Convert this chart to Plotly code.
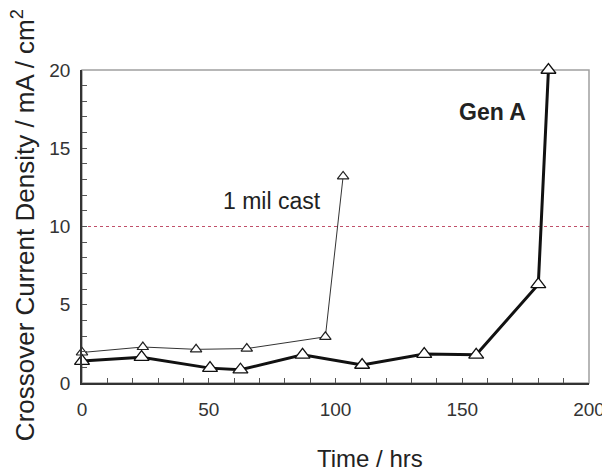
import plotly.graph_objects as go

cast_time = [0, 24, 45, 65, 96, 103]
cast_cd = [1.95, 2.3, 2.15, 2.2, 2.95, 13.2]

genA_time = [0, 23.5, 50.5, 62.5, 87, 110.5, 135, 155.5, 180, 184]
genA_cd = [1.4, 1.65, 0.95, 0.85, 1.8, 1.15, 1.85, 1.8, 6.3, 20]

threshold = 10
x_range = [0, 200]
y_range = [0, 20]

font = "Liberation Sans, Arial, sans-serif"

fig = go.Figure()
fig.add_trace(go.Scatter(
    x=x_range, y=[threshold, threshold], mode="lines",
    line=dict(color="#c0506a", width=1, dash="dot"), hoverinfo="skip"))
fig.add_trace(go.Scatter(
    x=cast_time, y=cast_cd, mode="lines+markers", name="1 mil cast",
    line=dict(color="#333333", width=1), cliponaxis=False,
    marker=dict(symbol="triangle-up", size=10, color="white",
                line=dict(color="#222222", width=1.2))))
fig.add_trace(go.Scatter(
    x=genA_time, y=genA_cd, mode="lines+markers", name="Gen A",
    line=dict(color="#111111", width=3), cliponaxis=False,
    marker=dict(symbol="triangle-up", size=13, color="white",
                line=dict(color="#111111", width=1.3))))

fig.add_annotation(x=75, y=11.6, text="1 mil cast", showarrow=False,
                   font=dict(family=font, size=23, color="#222222"))
fig.add_annotation(x=162, y=17.3, text="<b>Gen A</b>", showarrow=False,
                   font=dict(family=font, size=23, color="#222222"))

# axis titles
fig.add_annotation(xref="paper", yref="paper", x=0.568, y=-0.24,
                   text="Time / hrs", showarrow=False, yanchor="middle",
                   font=dict(family=font, size=24, color="#222222"))
fig.add_annotation(xref="paper", yref="paper", x=-0.114, y=0.505,
                   text="Crossover Current Density / mA / cm<sup>2</sup>",
                   textangle=-90, showarrow=False, xanchor="center",
                   font=dict(family=font, size=26, color="#222222"))

# light gray frame (top / right)
fig.add_shape(type="rect", xref="paper", yref="paper", x0=0, x1=1, y0=0, y1=1,
              line=dict(color="#a0a0a0", width=1.5), layer="below")

axis_common = dict(
    showgrid=False, zeroline=False, showline=True, linecolor="#333333",
    linewidth=1.5, mirror=False, ticks="inside", ticklen=5, tickcolor="#555555",
    tickfont=dict(family=font, size=19, color="#333333"), automargin=False,
)
fig.update_xaxes(range=x_range, dtick=50, tick0=0, ticklabelstandoff=8,
                 minor=dict(dtick=10, ticks="inside", ticklen=5, tickcolor="#555555"),
                 **axis_common)
fig.update_yaxes(range=y_range, dtick=5, tick0=0, ticklabelstandoff=6,
                 minor=dict(dtick=1, ticks="inside", ticklen=5, tickcolor="#555555"),
                 **axis_common)

fig.update_layout(
    width=602, height=464, showlegend=False,
    plot_bgcolor="white", paper_bgcolor="white",
    margin=dict(l=74, r=21, t=62, b=89),
)
fig.write_html("out.html")
